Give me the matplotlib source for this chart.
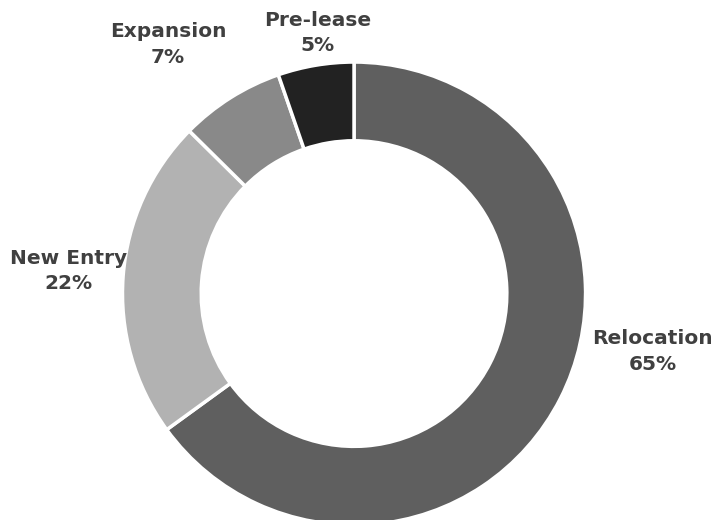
import matplotlib.pyplot as plt

categories = ["Relocation", "New Entry", "Expansion", "Pre-lease"]
shares = [65.0, 22.4, 7.3, 5.3]
colors = ["#5f5f5f", "#b2b2b2", "#898989", "#222222"]

# label spots in data units (pie radius = 1)
label_pos = [(1.29, -0.25), (-1.235, 0.097), (-0.803, 1.075), (-0.156, 1.125)]

fig = plt.figure(figsize=(7.18, 5.2), dpi=100)
ax = fig.add_axes([0, 0, 1, 1])

ax.pie(shares, colors=colors, startangle=90, counterclock=False, radius=1,
       wedgeprops=dict(width=0.34, edgecolor="white", linewidth=2.5))

for name, val, (x, y) in zip(categories, shares, label_pos):
    ax.text(x, y, f"{name}\n{round(val)}%", ha="center", va="center",
            fontsize=14.5, fontweight="bold", family="DejaVu Sans", color="#404040",
            linespacing=1.45)

ax.set_xlim(-1.529, 1.572)
ax.set_ylim(-0.978, 1.268)
ax.set_aspect("auto")
ax.axis("off")

fig.savefig("out.png", dpi=100)
